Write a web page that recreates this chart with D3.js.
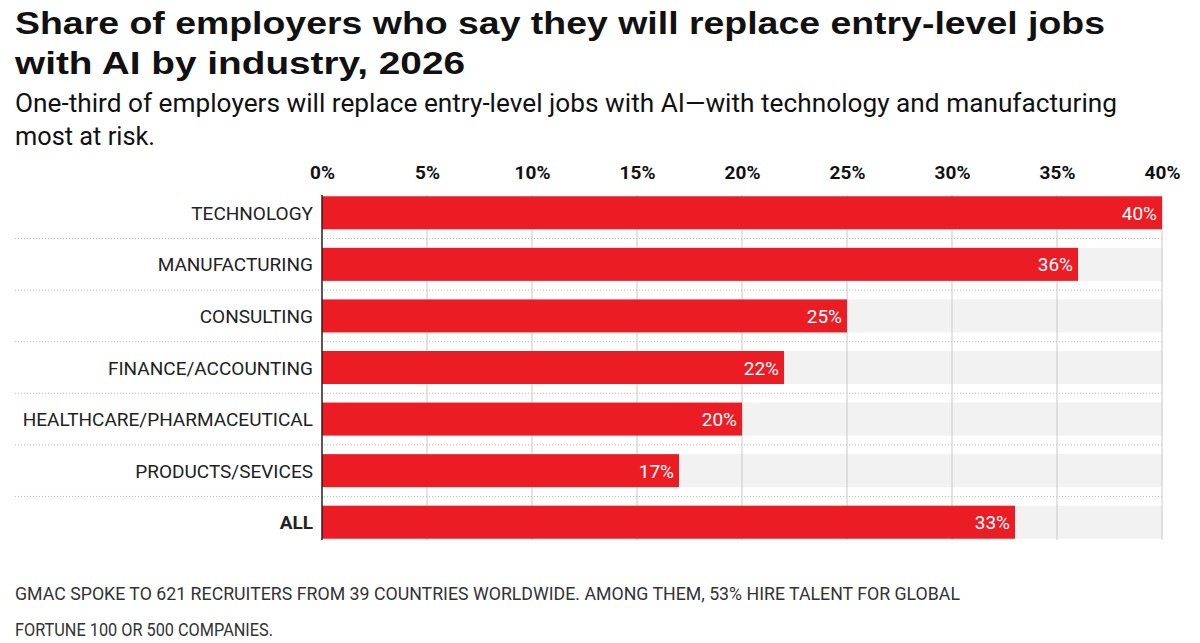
<!DOCTYPE html><html><head><meta charset="utf-8"><script src="https://cdn.jsdelivr.net/npm/d3@7"></script>
<style>body{margin:0;background:#fff}</style></head><body><svg id="c" width="1200" height="643"></svg>
<script>
const categories=["TECHNOLOGY","MANUFACTURING","CONSULTING","FINANCE/ACCOUNTING","HEALTHCARE/PHARMACEUTICAL","PRODUCTS/SEVICES","ALL"];
const values=[40,36,25,22,20,17,33];
const ticks=[0,5,10,15,20,25,30,35,40];
const svg=d3.select("#c");
const narrow="'Roboto',sans-serif";
const x=d3.scaleLinear().domain([0,40]).range([322,1162]);
const y=d3.scaleBand().domain(categories).range([187,548]).paddingInner(0.36).paddingOuter(0.18);
const T=(xx,yy,s,sz,w,len)=>{const t=svg.append("text").attr("x",xx).attr("y",yy).attr("font-family",w?"'Liberation Sans',sans-serif":narrow).attr("font-weight",w?"bold":"normal").attr("font-size",sz).attr("fill","#111").text(s);if(len)t.attr("textLength",len).attr("lengthAdjust","spacingAndGlyphs");return t;};
T(15,34,"Share of employers who say they will replace entry-level jobs",31,true,1090);
T(15,74,"with AI by industry, 2026",31,true,450);
T(15,112,"One-third of employers will replace entry-level jobs with AI—with technology and manufacturing",25,false,1102);
T(15,145,"most at risk.",25,false,140);
svg.selectAll(".bg").data(categories).join("rect").attr("x",x(0)).attr("y",d=>y(d)).attr("width",x(40)-x(0)).attr("height",y.bandwidth()).attr("fill","#f2f2f2");
categories.slice(0,-1).forEach(c=>{const yy=y(c)+y.bandwidth()+y.step()*y.paddingInner()/2;
svg.append("line").attr("x1",15).attr("x2",1162).attr("y1",yy).attr("y2",yy).attr("stroke","#bbb").attr("stroke-dasharray","1,2");});
svg.selectAll(".g").data(ticks.slice(1)).join("line").attr("x1",d=>x(d)).attr("x2",d=>x(d)).attr("y1",195).attr("y2",540).attr("stroke","#c8c8c8");
const ax=svg.append("g").attr("transform","translate(0,182)").call(d3.axisTop(x).tickValues(ticks).tickFormat(d=>d+"%").tickSize(0));
ax.select(".domain").remove();
ax.selectAll("text").attr("font-family",narrow).attr("font-weight","bold").attr("font-size",19).attr("fill","#111");
svg.selectAll(".b").data(values).join("rect").attr("x",x(0)).attr("y",(d,i)=>y(categories[i])).attr("width",d=>x(d)-x(0)).attr("height",y.bandwidth()).attr("fill","#ec1c24");
svg.append("line").attr("x1",x(0)).attr("x2",x(0)).attr("y1",195).attr("y2",540).attr("stroke","#222").attr("stroke-width",1.5);
svg.selectAll(".v").data(values).join("text").attr("x",d=>x(d)-5).attr("y",(d,i)=>y(categories[i])+y.bandwidth()/2+7).attr("text-anchor","end").attr("fill","#fff").attr("font-family",narrow).attr("font-size",19).text(d=>d+"%");
svg.selectAll(".l").data(categories).join("text").attr("x",313).attr("y",d=>y(d)+y.bandwidth()/2+7).attr("text-anchor","end").attr("fill","#222").attr("font-family",narrow).attr("font-size",19).attr("font-weight",d=>d==="ALL"?"bold":"normal").text(d=>d);
T(15,600,"GMAC SPOKE TO 621 RECRUITERS FROM 39 COUNTRIES WORLDWIDE. AMONG THEM, 53% HIRE TALENT FOR GLOBAL",18,false,945).attr("fill","#333");
T(15,636,"FORTUNE 100 OR 500 COMPANIES.",18,false,258).attr("fill","#333");
</script></body></html>
